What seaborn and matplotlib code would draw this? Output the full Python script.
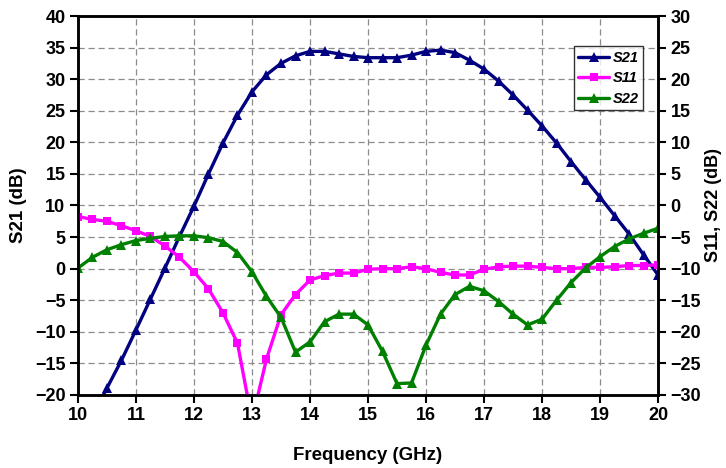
import numpy as np
import pandas as pd
import matplotlib
matplotlib.use("Agg")
import matplotlib.pyplot as plt
import seaborn as sns

# frequency points (GHz), 0.25 GHz step
freq = [10.0, 10.25, 10.5, 10.75, 11.0, 11.25, 11.5, 11.75, 12.0, 12.25, 12.5,
        12.75, 13.0, 13.25, 13.5, 13.75, 14.0, 14.25, 14.5, 14.75, 15.0,
        15.25, 15.5, 15.75, 16.0, 16.25, 16.5, 16.75, 17.0, 17.25, 17.5,
        17.75, 18.0, 18.25, 18.5, 18.75, 19.0, 19.25, 19.5, 19.75, 20.0]

s21 = [-27.7, -23.3, -18.9, -14.5, -9.7, -4.8, 0.1, 5.1, 9.9, 15.0, 19.9,
       24.3, 28.0, 30.7, 32.5, 33.7, 34.4, 34.4, 34.0, 33.6, 33.4,
       33.4, 33.4, 33.8, 34.4, 34.6, 34.2, 33.0, 31.6, 29.7, 27.5,
       25.1, 22.6, 19.9, 16.95, 14.1, 11.3, 8.4, 5.5, 2.2, -1.0]

s11 = [-1.75, -2.2, -2.5, -3.2, -4.0, -4.9, -6.4, -8.2, -10.5, -13.2, -17.0,
       -21.8, -34.0, -24.3, -17.3, -14.1, -11.8, -11.1, -10.7, -10.7, -10.1,
       -10.0, -10.0, -9.7, -10.0, -10.6, -11.0, -11.0, -10.1, -9.7, -9.6,
       -9.6, -9.8, -10.0, -10.0, -9.8, -9.8, -9.7, -9.5, -9.5, -9.4]

s22 = [-9.9, -8.2, -7.0, -6.2, -5.55, -5.2, -4.9, -4.8, -4.8, -5.1, -5.7,
       -7.45, -10.5, -14.4, -17.7, -23.2, -21.6, -18.4, -17.2, -17.2, -18.9,
       -23.1, -28.2, -28.1, -22.1, -17.2, -14.1, -12.8, -13.5, -15.2, -17.2,
       -18.9, -18.0, -15.0, -12.2, -9.9, -8.1, -6.5, -5.3, -4.4, -3.6]

df = pd.DataFrame({"freq": freq, "S21": s21, "S11": s11, "S22": s22})

sns.set_style("ticks")
plt.rcParams['font.family'] = ['Liberation Sans', 'DejaVu Sans']
plt.rcParams['font.weight'] = 'bold'
plt.rcParams['text.color'] = 'black'
plt.rcParams['axes.labelcolor'] = 'black'

fig = plt.figure(figsize=(7.26, 4.68), dpi=100)
ax = fig.add_axes([0.1074, 0.156, 0.799, 0.8098])
ax2 = ax.twinx()

sns.lineplot(data=df, x="freq", y="S21", ax=ax, color="#000080", lw=2.4,
             marker="^", markersize=7, markeredgewidth=0, label="S21", legend=False)
sns.lineplot(data=df, x="freq", y="S11", ax=ax2, color="#FF00FF", lw=2.4,
             marker="s", markersize=5.5, markeredgewidth=0, label="S11", legend=False)
sns.lineplot(data=df, x="freq", y="S22", ax=ax2, color="#008000", lw=2.4,
             marker="^", markersize=7, markeredgewidth=0, label="S22", legend=False)

ax.set_xlim(10, 20)
ax.set_ylim(-20, 40)
ax2.set_ylim(-30, 30)
ax.set_xticks(range(10, 21))
ax.set_yticks(range(-20, 41, 5))
ax2.set_yticks(range(-30, 31, 5))

ax.grid(True, color="#8c8c8c", linestyle=(0, (5, 3)), linewidth=0.9)
ax.set_axisbelow(True)

for a in (ax, ax2):
    for sp in a.spines.values():
        sp.set_linewidth(1.8)
        sp.set_color("black")
    a.tick_params(direction="out", length=5.5, width=1.5, labelsize=13, colors="black")
    for lab in a.get_xticklabels() + a.get_yticklabels():
        lab.set_fontweight("bold")

ax.set_xlabel("Frequency (GHz)", fontsize=13.5, fontweight="bold", color="black", labelpad=16)
ax.set_ylabel("S21 (dB)", fontsize=13.5, fontweight="bold", color="black", labelpad=6)
ax2.set_ylabel("S11, S22 (dB)", fontsize=13, fontweight="bold", color="black", labelpad=3)

handles = ax.get_lines()[:1] + ax2.get_lines()[:2]
leg = ax2.legend(handles, ["S21", "S11", "S22"], loc="upper left",
                 bbox_to_anchor=(0.855, 0.92), frameon=True, fancybox=False,
                 prop={"weight": "bold", "style": "italic", "size": 10.5},
                 handlelength=2.1, borderpad=0.3, labelspacing=0.45,
                 handletextpad=0.25, borderaxespad=0)
leg.get_frame().set_edgecolor("black")
leg.get_frame().set_linewidth(1.0)

fig.savefig("out.png", dpi=100)
